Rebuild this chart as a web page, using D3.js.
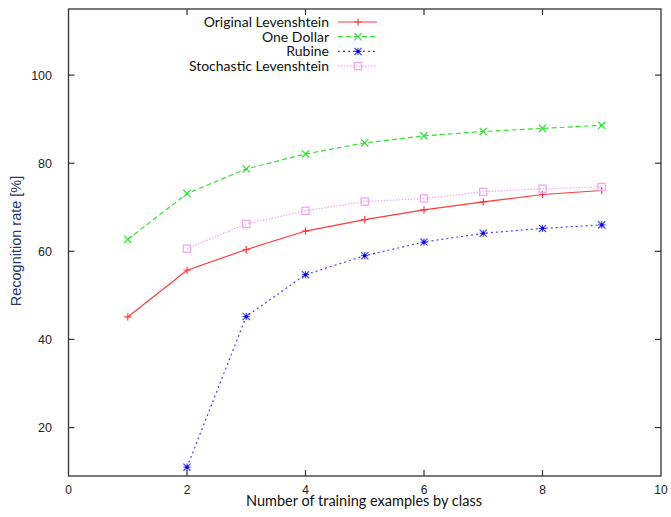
<!DOCTYPE html>
<html>
<head>
<meta charset="utf-8">
<script src="https://cdn.jsdelivr.net/npm/d3@7"></script>
<style>
    body { margin: 0; background: #fff; }
    svg { display: block; }
</style>
</head>
<body>
<svg width="671" height="517"></svg>
<script>
// training examples per class
var examples = [1, 2, 3, 4, 5, 6, 7, 8, 9];

var originalLevenshtein = [45.1, 55.7, 60.4, 64.6, 67.2, 69.4, 71.2, 72.9, 73.8];
var oneDollar = [62.7, 73.1, 78.7, 82.1, 84.6, 86.2, 87.2, 87.9, 88.6];
var rubine = [null, 11.0, 45.2, 54.7, 59.0, 62.1, 64.1, 65.2, 66.0];
var stochasticLevenshtein = [null, 60.6, 66.2, 69.2, 71.3, 72.0, 73.5, 74.2, 74.6];

var seriesNames = ["Original Levenshtein", "One Dollar", "Rubine", "Stochastic Levenshtein"];

var xTicks = [0, 2, 4, 6, 8, 10];
var yTicks = [20, 40, 60, 80, 100];

var series = [
    { name: seriesNames[0], values: originalLevenshtein, color: "#ff3b3b", dash: null, marker: "plus" },
    { name: seriesNames[1], values: oneDollar, color: "#33e033", dash: "5,3", marker: "cross" },
    { name: seriesNames[2], values: rubine, color: "#4646ff", dash: "2,3", marker: "star" },
    { name: seriesNames[3], values: stochasticLevenshtein, color: "#f2a6f2", dash: "1.5,1.5", marker: "square" }
];

var svg = d3.select("svg");
// note: "top" is taken by window.top, so prefix these
var plotLeft = 68.5, plotRight = 661, plotTop = 9, plotBottom = 476;

var x = d3.scaleLinear().domain([0, 10]).range([plotLeft, plotRight]);
var y = d3.scaleLinear().domain([9, 115]).range([plotBottom, plotTop]);

var tickFont = "'Liberation Sans', Arial, sans-serif";
var textFont = "Lato, 'Open Sans', sans-serif";

// frame
svg.append("rect")
    .attr("x", plotLeft).attr("y", plotTop)
    .attr("width", plotRight - plotLeft).attr("height", plotBottom - plotTop)
    .attr("fill", "none").attr("stroke", "#333").attr("stroke-width", 1.3);

// ticks on all four sides, pointing in
var tickLen = 6;
var tickG = svg.append("g").attr("stroke", "#333").attr("stroke-width", 1.2);
xTicks.forEach(function (t) {
    if (t === 0 || t === 10) return;
    tickG.append("line").attr("x1", x(t)).attr("x2", x(t)).attr("y1", plotBottom).attr("y2", plotBottom - tickLen);
    tickG.append("line").attr("x1", x(t)).attr("x2", x(t)).attr("y1", plotTop).attr("y2", plotTop + tickLen);
});
yTicks.forEach(function (t) {
    tickG.append("line").attr("x1", plotLeft).attr("x2", plotLeft + tickLen).attr("y1", y(t)).attr("y2", y(t));
    tickG.append("line").attr("x1", plotRight).attr("x2", plotRight - tickLen).attr("y1", y(t)).attr("y2", y(t));
});

// tick labels
svg.append("g").selectAll("text").data(xTicks).join("text")
    .attr("x", function (d) { return x(d); })
    .attr("y", 494)
    .attr("text-anchor", "middle")
    .attr("font-family", tickFont).attr("font-size", 12).attr("fill", "#222")
    .text(function (d) { return d; });

svg.append("g").selectAll("text").data(yTicks).join("text")
    .attr("x", 52)
    .attr("y", function (d) { return y(d) + 4.5; })
    .attr("text-anchor", "end")
    .attr("font-family", tickFont).attr("font-size", 12.5).attr("fill", "#222")
    .text(function (d) { return d; });

// axis titles
svg.append("text")
    .attr("x", 364).attr("y", 506)
    .attr("text-anchor", "middle")
    .attr("font-family", textFont).attr("font-size", 14.5).attr("fill", "#111")
    .text("Number of training examples by class");

svg.append("text")
    .attr("transform", "translate(21,241) rotate(-90)")
    .attr("text-anchor", "middle")
    .attr("font-family", tickFont).attr("font-size", 14.5).attr("fill", "#22386e")
    .text("Recognition rate [%]");

function drawMarker(g, type, color, cx, cy) {
    var s = 3.6;
    if (type === "plus" || type === "star") {
        g.append("path").attr("d", "M" + (cx - s) + "," + cy + "H" + (cx + s) + "M" + cx + "," + (cy - s) + "V" + (cy + s))
            .attr("stroke", color).attr("stroke-width", 1.2);
    }
    if (type === "cross" || type === "star") {
        g.append("path").attr("d", "M" + (cx - s) + "," + (cy - s) + "L" + (cx + s) + "," + (cy + s) +
            "M" + (cx - s) + "," + (cy + s) + "L" + (cx + s) + "," + (cy - s))
            .attr("stroke", color).attr("stroke-width", 1.2);
    }
    if (type === "star") {
        g.append("circle").attr("cx", cx).attr("cy", cy).attr("r", 1.6).attr("fill", "#0000cc");
    }
    if (type === "square") {
        g.append("rect").attr("x", cx - s).attr("y", cy - s).attr("width", 2 * s).attr("height", 2 * s)
            .attr("fill", "none").attr("stroke", color).attr("stroke-width", 1.3);
    }
}

var line = d3.line()
    .defined(function (d) { return d.v !== null; })
    .x(function (d) { return x(d.x); })
    .y(function (d) { return y(d.v); });

series.forEach(function (s) {
    var pts = examples.map(function (e, i) { return { x: e, v: s.values[i] }; });
    var g = svg.append("g");
    g.append("path")
        .datum(pts)
        .attr("d", line)
        .attr("fill", "none")
        .attr("stroke", s.color)
        .attr("stroke-width", 1.2)
        .attr("stroke-dasharray", s.dash);
    pts.forEach(function (p) {
        if (p.v === null) return;
        drawMarker(g, s.marker, s.color, x(p.x), y(p.v));
    });
});

// legend
var legendY0 = 22, legendStep = 14.7;
series.forEach(function (s, i) {
    var ly = legendY0 + i * legendStep;
    var g = svg.append("g");
    g.append("text")
        .attr("x", 329).attr("y", ly + 5)
        .attr("text-anchor", "end")
        .attr("font-family", textFont).attr("font-size", 14).attr("fill", "#111")
        .text(s.name);
    g.append("line")
        .attr("x1", 338).attr("x2", 377).attr("y1", ly).attr("y2", ly)
        .attr("stroke", s.color).attr("stroke-width", 1.2)
        .attr("stroke-dasharray", s.dash);
    drawMarker(g, s.marker, s.color, 358, ly);
});
</script>
</body>
</html>
